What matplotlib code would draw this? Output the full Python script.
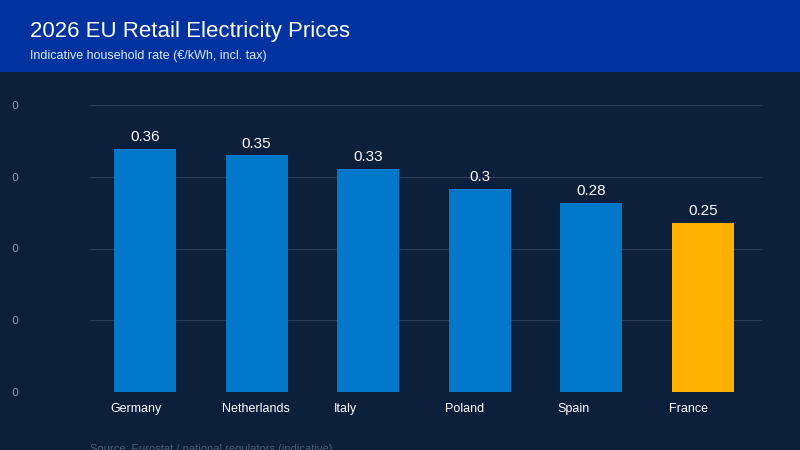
import matplotlib
matplotlib.use("Agg")
import matplotlib.pyplot as plt
import numpy as np

countries = ["Germany", "Netherlands", "Italy", "Poland", "Spain", "France"]
prices = [0.36, 0.35, 0.33, 0.30, 0.28, 0.25]
highlight = "France"

BG = "#0c1f3b"
HEADER = "#0033a0"
BAR = "#0077c8"
HL = "#ffb000"

fig = plt.figure(figsize=(8, 4.5), dpi=100, facecolor=BG)

# header band
fig.patches.append(plt.Rectangle((0, 1 - 72 / 450), 1, 72 / 450, transform=fig.transFigure,
                                 facecolor=HEADER, edgecolor="none", zorder=0))
fig.text(30 / 800, 1 - 32 / 450, "2026 EU Retail Electricity Prices", color="white",
         fontsize=16, va="center", family="Liberation Sans")
fig.text(30 / 800, 1 - 56 / 450, "Indicative household rate (€/kWh, incl. tax)",
         color="#dfe8f5", fontsize=9, va="center", family="Liberation Sans")

ax = fig.add_axes([90 / 800, 1 - 392 / 450, 672 / 800, 287 / 450])
ax.set_facecolor(BG)

x = np.arange(len(countries))
colors = [HL if c == highlight else BAR for c in countries]
width = 0.556
ax.bar(x, prices, width=width, color=colors, zorder=2)
for xi, v in zip(x, prices):
    ax.text(xi, v + 0.007, f"{v:g}", ha="center", va="bottom", color="white",
            fontsize=11, family="Liberation Sans")

ymax = 0.4245
ax.set_ylim(0, ymax)
ax.set_xlim(-0.493, 5.53)
ticks = np.linspace(0, ymax, 5)
ax.set_yticks(ticks)
ax.set_yticklabels(["0"] * 5)
ax.grid(axis="y", color="#2a3d5c", linewidth=0.8, zorder=0)

ax.set_xticks(x - width / 2 - 0.03)
ax.set_xticklabels(countries, ha="left", family="Liberation Sans")
ax.tick_params(axis="x", colors="white", labelsize=9, length=0, pad=8)
ax.tick_params(axis="y", colors="#8a9ab5", labelsize=8, length=0, pad=52)
for s in ax.spines.values():
    s.set_visible(False)

fig.text(90 / 800, 1 - 449 / 450, "Source: Eurostat / national regulators (indicative)",
         color="#4a5d7c", fontsize=8, va="center", family="Liberation Sans")

fig.savefig("out.png", dpi=100, facecolor=BG)
